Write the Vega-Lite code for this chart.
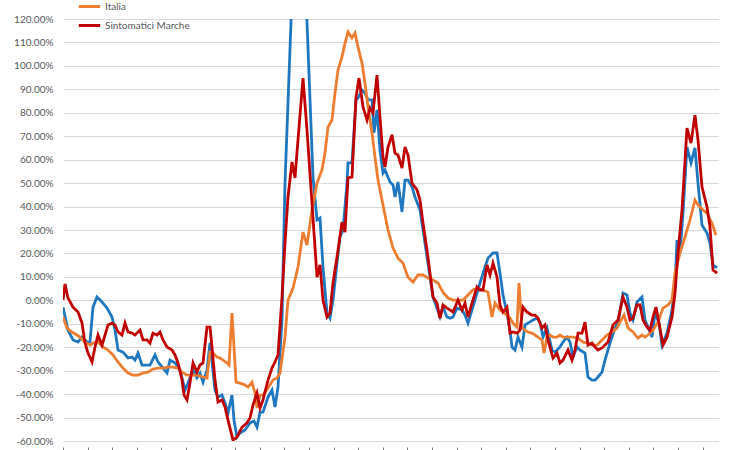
{
  "$schema": "https://vega.github.io/schema/vega-lite/v6.json",
  "width": 655,
  "height": 422,
  "autosize": {"type": "none"},
  "padding": {"left": 63, "top": 19, "right": 32, "bottom": 9},
  "background": "white",
  "config": {"view": {"stroke": null}, "font": "Lato"},
  "datasets": {
    "Marche": [
      [0,-3.0],[5,-12.7],[10,-16.9],[15,-17.8],[19,-15.7],[24,-17.8],[27,-17.8],[30,-2.9],[34,1.4],[39,-0.7],[44,-3.3],[49,-7.1],[52,-12.7],[55,-21.2],[60,-22.1],[65,-24.6],[69,-24.2],[72,-25.5],[75,-22.5],[79,-27.6],[84,-27.6],[87,-27.6],[92,-23.3],[95,-26.3],[100,-28.9],[104,-31.0],[107,-25.5],[112,-26.7],[117,-29.7],[122,-38.3],[125,-35.3],[130,-29.7],[134,-33.1],[137,-31.0],[140,-34.9],[144,-29.7],[147,-18.2],[152,-38.3],[155,-41.3],[159,-40.4],[162,-43.8],[165,-48.1],[169,-40.4],[171,-51.1],[174,-58.3],[177,-56.6],[182,-55.3],[187,-52.3],[191,-51.5],[194,-54.1],[197,-47.7],[200,-47.7],[205,-41.3],[209,-38.3],[212,-45.5],[215,-37.0],[219,-8.4],[222,50.0],[228,118.7],[236,200],[244,118.7],[250,52.6],[254,34.3],[257,35.1],[260,14.2],[264,-5.4],[267,-7.6],[270,0.1],[274,15.9],[277,27.0],[280,30.0],[284,50.0],[285,58.6],[289,58.6],[293,85.5],[295,86.3],[299,89.7],[302,88.4],[305,85.5],[309,85.5],[311,71.4],[314,81.2],[317,64.1],[320,54.3],[322,55.6],[327,50.5],[330,49.2],[332,44.1],[335,50.5],[339,37.7],[342,51.3],[345,51.3],[349,48.3],[352,44.1],[357,38.5],[360,30.0],[364,18.5],[367,9.9],[370,1.4],[374,-3.3],[377,-7.1],[380,-2.9],[384,-7.1],[387,-7.6],[390,-7.1],[394,-3.3],[399,-4.1],[402,-6.3],[405,-9.7],[409,-4.1],[412,0.1],[417,7.4],[422,14.2],[425,18.0],[430,20.2],[434,20.2],[437,11.6],[440,2.3],[444,-5.4],[447,-12.7],[449,-19.9],[452,-21.2],[455,-15.7],[459,-19.9],[462,-10.5],[465,-9.7],[470,-8.4],[474,-7.6],[477,-9.3],[480,-15.7],[484,-11.8],[489,-21.2],[492,-22.1],[497,-19.9],[500,-17.8],[504,-15.7],[507,-17.8],[510,-24.2],[514,-19.9],[517,-21.2],[522,-22.5],[525,-32.7],[529,-34.0],[532,-34.0],[535,-32.7],[539,-30.6],[542,-25.5],[547,-18.2],[552,-11.8],[555,-9.7],[560,3.1],[564,2.3],[567,-5.4],[570,-8.4],[574,-0.7],[579,1.4],[582,-8.4],[585,-11.4],[589,-15.7],[592,-5.4],[596,-9.7],[599,-19.1],[604,-14.0],[609,-4.1],[612,5.7],[614,25.7],[617,20.2],[620,37.2],[624,65.4],[628,58.6],[632,65.0],[635,50.0],[639,32.1],[644,28.7],[647,24.4],[650,15.1],[654,13.8]
    ],
    "Sintomatici": [
      [0,0.1],[2,7.0],[5,1.0],[10,-2.9],[15,-5.0],[19,-9.7],[22,-18.2],[25,-22.5],[29,-26.3],[32,-19.9],[35,-14.8],[39,-19.1],[42,-14.8],[45,-10.5],[49,-9.7],[52,-10.5],[55,-13.5],[59,-14.8],[62,-9.7],[65,-13.5],[69,-14.0],[72,-14.8],[77,-12.7],[80,-16.9],[84,-16.9],[87,-18.2],[90,-14.0],[94,-14.8],[97,-13.5],[100,-16.9],[104,-19.9],[109,-21.2],[112,-23.3],[115,-26.7],[119,-34.0],[121,-40.4],[124,-42.5],[127,-35.3],[130,-26.7],[134,-30.6],[137,-27.6],[140,-26.7],[144,-11.4],[147,-11.4],[149,-19.9],[152,-34.0],[155,-43.4],[159,-42.5],[162,-45.5],[165,-51.1],[170,-59.6],[174,-58.3],[179,-54.1],[184,-52.3],[187,-50.2],[190,-44.7],[194,-39.5],[197,-45.9],[200,-42.5],[205,-34.0],[209,-28.9],[212,-26.3],[215,-23.3],[219,1.4],[222,24.4],[225,44.1],[229,59.0],[232,52.2],[235,68.4],[240,94.8],[244,72.6],[249,41.5],[254,9.9],[257,15.1],[260,0.1],[264,-7.1],[267,-5.4],[270,7.4],[274,18.5],[279,33.4],[282,29.1],[285,52.2],[289,52.6],[293,86.7],[296,94.8],[300,82.5],[304,76.9],[307,82.0],[310,79.9],[314,96.1],[317,78.2],[320,61.1],[322,56.9],[325,65.4],[329,70.6],[332,62.8],[335,62.0],[339,56.4],[342,65.4],[345,62.0],[349,50.0],[354,47.1],[357,42.8],[360,33.0],[364,21.5],[367,11.6],[370,1.4],[374,-1.2],[377,-7.6],[380,-2.0],[384,-3.3],[387,-4.1],[390,-5.0],[395,0.1],[399,-4.1],[402,-1.2],[405,-7.1],[409,-1.2],[414,5.7],[417,4.4],[420,4.4],[424,15.1],[427,10.8],[430,15.9],[434,9.9],[437,-2.0],[440,-5.0],[444,-2.9],[447,-14.0],[450,-13.5],[454,-14.0],[457,-12.7],[460,-2.9],[464,-5.0],[469,-6.3],[472,-6.3],[475,-7.6],[479,-11.8],[482,-10.5],[485,-16.9],[490,-24.6],[494,-22.5],[497,-26.7],[500,-25.5],[505,-21.2],[509,-25.5],[512,-21.2],[515,-14.0],[519,-14.0],[522,-9.3],[525,-19.1],[529,-18.2],[532,-19.9],[535,-21.2],[539,-20.3],[542,-19.1],[545,-17.8],[550,-10.5],[555,-8.4],[560,1.4],[564,-2.9],[567,-8.4],[570,-7.6],[574,-2.0],[577,-2.0],[580,-8.4],[584,-11.4],[587,-12.7],[590,-7.1],[593,-2.9],[596,-9.7],[600,-19.1],[604,-15.7],[609,-7.1],[612,3.1],[615,20.2],[619,38.5],[624,73.5],[628,67.1],[632,79.0],[635,68.4],[639,48.3],[644,39.8],[647,31.3],[650,12.9],[654,11.6]
    ],
    "Italia": [
      [0,-7.1],[4,-11.8],[9,-13.5],[14,-14.8],[17,-15.7],[22,-17.8],[27,-19.1],[30,-18.2],[35,-17.8],[40,-19.9],[45,-21.2],[50,-23.3],[55,-26.3],[60,-28.9],[65,-31.0],[70,-31.9],[75,-31.9],[80,-31.0],[85,-30.6],[90,-29.3],[95,-28.9],[100,-28.9],[105,-28.5],[110,-28.5],[115,-28.9],[119,-30.6],[124,-31.9],[129,-31.9],[134,-31.9],[140,-32.7],[144,-33.1],[147,-22.1],[150,-22.5],[154,-24.2],[157,-24.6],[160,-25.5],[164,-26.7],[166,-27.6],[169,-5.4],[171,-19.9],[173,-34.9],[177,-35.3],[182,-36.1],[185,-37.0],[189,-34.9],[192,-39.5],[194,-45.9],[197,-40.4],[200,-40.4],[205,-37.4],[210,-34.0],[214,-33.1],[217,-31.0],[222,-15.7],[225,0.1],[230,5.2],[235,14.2],[240,29.1],[244,23.6],[249,38.5],[254,50.0],[259,55.6],[262,62.8],[265,73.9],[269,76.9],[272,88.4],[275,98.2],[279,103.8],[282,109.7],[285,114.5],[289,111.9],[292,114.0],[295,108.1],[299,101.2],[302,92.7],[305,82.5],[309,71.4],[312,61.1],[315,51.3],[319,42.8],[322,36.4],[325,30.0],[330,22.3],[335,18.0],[340,15.9],[345,9.9],[350,7.8],[355,10.8],[360,10.8],[365,9.5],[370,8.7],[375,7.4],[380,3.5],[385,1.0],[390,0.1],[395,0.1],[400,0.1],[405,2.3],[410,4.4],[415,5.2],[420,4.4],[425,3.5],[429,-7.1],[432,-1.2],[437,-4.1],[440,-5.0],[444,-6.3],[447,-7.6],[450,-9.7],[454,-11.4],[456,7.4],[459,-11.8],[462,-12.7],[465,-13.5],[469,-14.0],[472,-14.8],[475,-15.7],[479,-16.9],[481,-22.5],[484,-15.7],[487,-14.8],[490,-15.7],[494,-15.7],[497,-14.8],[500,-15.7],[505,-15.7],[510,-15.7],[515,-16.1],[520,-17.8],[525,-18.2],[529,-19.1],[534,-19.1],[539,-16.9],[544,-14.8],[549,-13.5],[554,-11.8],[557,-9.3],[561,-6.3],[565,-11.8],[570,-13.5],[575,-16.1],[579,-14.8],[582,-15.7],[585,-14.8],[590,-12.7],[595,-9.3],[600,-3.3],[605,-2.0],[609,0.1],[612,11.6],[617,20.2],[622,27.0],[627,34.3],[632,42.8],[635,40.7],[640,38.5],[644,37.2],[649,32.9],[653,27.8]
    ]
  },
  "encoding": {
    "x": {
      "field": "t", "type": "quantitative",
      "scale": {"domain": [0, 655], "nice": false, "zero": false},
      "axis": {
        "title": null, "labels": false, "grid": false, "domain": false,
        "ticks": true, "tickSize": 3, "tickColor": "#7f7f7f", "offset": 6,
        "values": [0,24.6,49.2,73.8,98.4,123,147.6,172.2,196.8,221.4,246,270.6,295.2,319.8,344.4,369,393.6,418.2,442.8,467.4,492,516.6,541.2,565.8,590.4,615,639.6]
      }
    },
    "y": {
      "field": "v", "type": "quantitative",
      "scale": {"domain": [-60, 120], "nice": false, "zero": false},
      "axis": {
        "title": null, "domain": false, "ticks": false,
        "grid": true, "gridColor": "#d9d9d9", "gridWidth": 1,
        "values": [-60,-50,-40,-30,-20,-10,0,10,20,30,40,50,60,70,80,90,100,110,120],
        "labelExpr": "(datum.value < 0 ? '-' : '') + format(abs(datum.value), '.2f') + '%'",
        "labelFont": "Lato", "labelFontSize": 10, "labelColor": "#595959", "labelPadding": 10
      }
    },
    "color": {
      "field": "s", "type": "nominal",
      "scale": {"domain": ["Marche", "Italia", "Sintomatici Marche"], "range": ["#1f78bf", "#ed7d31", "#c00000"]},
      "legend": {
        "title": null, "orient": "none", "legendX": 14, "legendY": -25,
        "values": ["Italia", "Sintomatici Marche"],
        "symbolType": "stroke", "symbolSize": 460, "symbolStrokeWidth": 3,
        "rowPadding": -4, "labelFont": "Lato", "labelFontSize": 10, "labelColor": "#595959",
        "labelOffset": 3
      }
    }
  },
  "layer": [
    {
      "data": {"name": "Marche"},
      "transform": [{"calculate": "datum[0]", "as": "t"}, {"calculate": "datum[1]", "as": "v"}, {"calculate": "'Marche'", "as": "s"}],
      "mark": {"type": "line", "strokeWidth": 2.8, "clip": true}
    },
    {
      "data": {"name": "Italia"},
      "transform": [{"calculate": "datum[0]", "as": "t"}, {"calculate": "datum[1]", "as": "v"}, {"calculate": "'Italia'", "as": "s"}],
      "mark": {"type": "line", "strokeWidth": 2.8, "clip": true}
    },
    {
      "data": {"name": "Sintomatici"},
      "transform": [{"calculate": "datum[0]", "as": "t"}, {"calculate": "datum[1]", "as": "v"}, {"calculate": "'Sintomatici Marche'", "as": "s"}],
      "mark": {"type": "line", "strokeWidth": 2.8, "clip": true}
    }
  ]
}
